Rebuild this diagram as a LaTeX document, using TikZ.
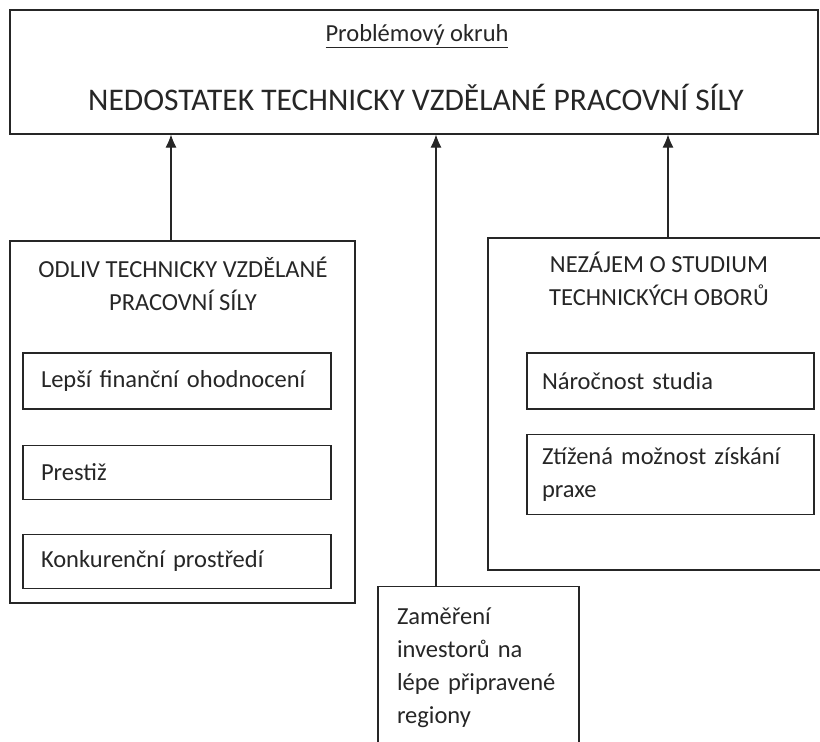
\documentclass[tikz,border=0pt]{standalone}
\usepackage{fontspec}
\setmainfont{Carlito}
\usepackage{xcolor}
\usetikzlibrary{arrows.meta, positioning}
\tikzset{
  outer/.style={rectangle, draw=black!85, line width=1.1pt, inner sep=0pt},
  item/.style={rectangle, draw=black!85, line width=1.1pt, inner sep=0pt,
               align=left, font=\fontsize{24.5}{33}\selectfont, text=black!85},
  head/.style={align=center, font=\fontsize{24.5}{33}\selectfont, text=black!85},
  arrow/.style={-{Latex[length=13pt, width=11pt]}, draw=black!85, line width=1.1pt},
}

\begin{document}
\begin{tikzpicture}[x=1pt, y=-1pt]
  \useasboundingbox (0,0) rectangle (820,742);

  % problem area
  \node[outer, minimum width=808pt, minimum height=124pt] (problem) at (414,72) {};
  \node[head] (okruh) at (417,36) {\underline{Problémový okruh}};
  \node[font=\fontsize{31.5}{36}\selectfont, text=black!85] (nedostatek) at (416,97)
    {NEDOSTATEK TECHNICKY VZDĚLANÉ PRACOVNÍ SÍLY};

  % left group
  \node[outer, minimum width=345pt, minimum height=362pt] (odliv) at (182.5,422) {};
  \node[head] (odlivtxt) at (183,284) {ODLIV TECHNICKY VZDĚLANÉ\\PRACOVNÍ SÍLY};
  \node[item, minimum width=308pt, minimum height=56pt, text width=272pt] (lepsi)
    at (177,381) {Lepší finanční ohodnocení};
  \node[item, minimum width=308pt, minimum height=54pt, text width=272pt,
        below=35pt of lepsi] (prestiz) {Prestiž};
  \node[item, minimum width=308pt, minimum height=54pt, text width=272pt,
        below=34pt of prestiz] (konkurence) {Konkurenční prostředí};

  % right group
  \node[outer, minimum width=342pt, minimum height=332pt] (nezajem) at (659,404) {};
  \node[head] (nezajemtxt) at (659,279) {NEZÁJEM O STUDIUM\\TECHNICKÝCH OBORŮ};
  \node[item, minimum width=287pt, minimum height=56pt, text width=257pt] (narocnost)
    at (670.5,381) {Náročnost studia};
  \node[item, minimum width=287pt, minimum height=80pt, text width=257pt,
        below=24pt of narocnost] (praxe) {Ztížená možnost získání\\praxe};

  % investors
  \node[item, minimum width=201pt, minimum height=174pt, text width=163pt,
        anchor=north] (investori) at (478.5,586)
    {\\[-28pt]Zaměření\\investorů na\\lépe připravené\\regiony\\[24pt]};

  % arrows
  \draw[arrow] (odliv.north -| 171,0) -- (problem.south -| 171,0);
  \draw[arrow] (investori.north -| 436,0) -- (problem.south -| 436,0);
  \draw[arrow] (nezajem.north -| 668,0) -- (problem.south -| 668,0);
\end{tikzpicture}
\end{document}
